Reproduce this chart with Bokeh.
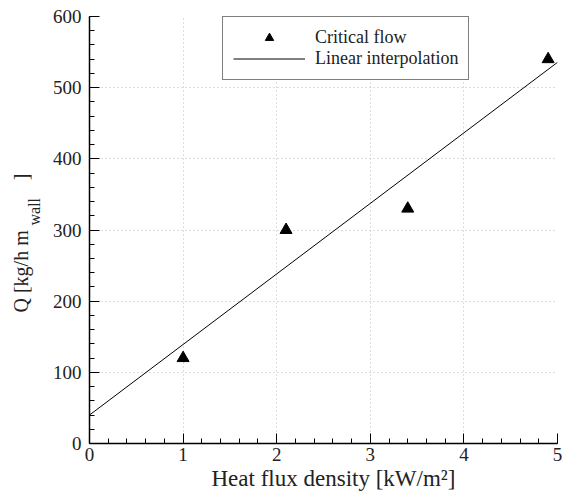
import numpy as np
from bokeh.plotting import figure
from bokeh.models import Range1d, SingleIntervalTicker, Title
from bokeh.embed import file_html
from bokeh.resources import INLINE

# data
heat_flux = [1.0, 2.1, 3.4, 4.9]
critical_flow = [120, 300, 330, 540]
x_line = [0.0, 5.0]
x_ticks_interval = 1
y_ticks_interval = 100

slope, intercept = np.polyfit(heat_flux, critical_flow, 1)
y_line = [slope * xv + intercept for xv in x_line]

FONT = "Liberation Serif"
TXT = "#222222"

p = figure(width=566, height=496, output_backend="svg", toolbar_location=None,
           x_range=Range1d(0, 5), y_range=Range1d(0, 600),
           min_border_left=89, min_border_right=9, min_border_top=16, min_border_bottom=53)
p.outline_line_color = None
p.background_fill_color = "white"
p.border_fill_color = "white"

p.line(x_line, y_line, line_color="black", line_width=1, legend_label="Linear interpolation")
p.scatter(heat_flux, critical_flow, marker="triangle", size=12, fill_color="black",
          line_color="black", legend_label="Critical flow")

for ax, iv in ((p.xaxis, x_ticks_interval), (p.yaxis, y_ticks_interval)):
    ax.ticker = SingleIntervalTicker(interval=iv, num_minor_ticks=5)
    ax.major_tick_in = 10
    ax.major_tick_out = 0
    ax.minor_tick_in = 5
    ax.minor_tick_out = 0
    ax.axis_line_color = "black"
    ax.axis_line_width = 1.5
    ax.major_tick_line_color = "black"
    ax.minor_tick_line_color = "black"
    ax.major_label_text_font = FONT
    ax.major_label_text_font_size = "19px"
    ax.major_label_text_color = TXT
p.xaxis.major_label_standoff = 4
p.yaxis.major_label_standoff = 8

p.grid.grid_line_color = "#bbbbbb"
p.grid.grid_line_dash = "1 3"
p.grid.grid_line_width = 1

# axis titles as side-panel titles
p.add_layout(Title(text="Heat flux density [kW/m\u00b2]", align="left", offset=122,
                   standoff=1, text_font=FONT, text_font_size="23px",
                   text_font_style="normal", text_color=TXT), "below")
p.add_layout(Title(text="wall", align="left", offset=218, standoff=13,
                   text_font=FONT, text_font_size="16px", text_font_style="normal",
                   text_color=TXT), "left")
p.add_layout(Title(text="Q [kg/h m" + "\u00a0" * 10 + "]", align="left", offset=131,
                   standoff=-28, text_font=FONT, text_font_size="20px",
                   text_font_style="normal", text_color=TXT), "left")

lg = p.legend[0]
lg.items = list(reversed(lg.items))
lg.location = (133, 363)
lg.padding = 10
lg.spacing = 0
lg.margin = 0
lg.glyph_width = 72
lg.glyph_height = 21
lg.label_height = 21
lg.label_standoff = 10
lg.label_text_font = FONT
lg.label_text_font_size = "18px"
lg.label_text_color = TXT
lg.border_line_color = "black"
lg.border_line_width = 1
lg.background_fill_alpha = 1

open("out.html", "w").write(file_html(p, INLINE))
